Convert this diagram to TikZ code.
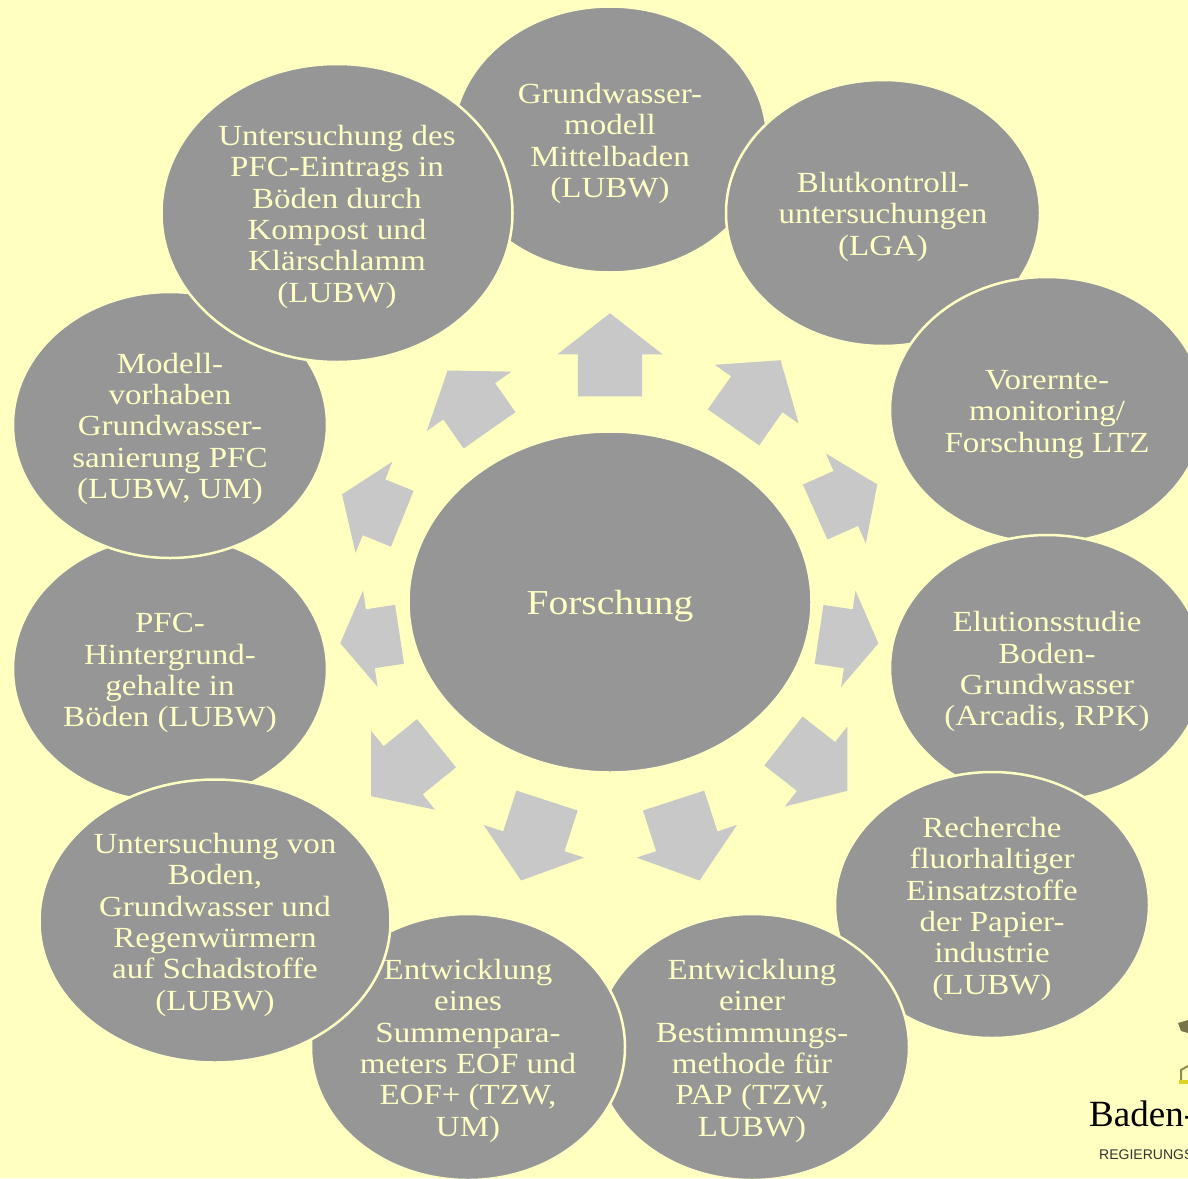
\documentclass[tikz,border=0pt]{standalone}
\usepackage{fontspec}
\setmainfont[FakeStretch=1.13]{Liberation Serif}
\newfontfamily\logofont{Liberation Serif}
\newfontfamily\subfont{Liberation Sans}
\usetikzlibrary{shapes.geometric, shapes.arrows, positioning}
\definecolor{paper}{HTML}{FFFFC0}
\definecolor{disc}{HTML}{969696}
\definecolor{pointer}{HTML}{C8C8C8}
\definecolor{lettering}{HTML}{FFFFC4}
\tikzset{
    bubble/.style={draw=lettering, line width=2.5pt, fill=disc, ellipse, inner sep=-12pt, align=center, text=lettering,
        font=\fontsize{29.2}{31.3}\selectfont, minimum width=314pt, minimum height=266pt},
    bubblewide/.style={bubble, minimum width=351pt, minimum height=#1},
    pointerarrow/.style={single arrow, fill=pointer, inner sep=0pt, anchor=tip}
}
\newcommand{\lift}{\rule{0pt}{28pt}}
\begin{document}
\begin{tikzpicture}[x=1pt, y=-1pt]
\useasboundingbox (0,0) rectangle (1188,1178);
\clip (0,0) rectangle (1188,1178);
\fill[paper] (0,0) rectangle (1188,1178);
\node[bubble] (Grundwasser) at (610,139.5) {\lift Grundwasser-\\modell\\Mittelbaden\\(LUBW)};
\node[bubble] (Blut) at (883,213) {\lift Blutkontroll-\\untersuchungen\\(LGA)};
\node[bubble] (Vorernte) at (1047,410) {\lift Vorernte-\\monitoring/\\Forschung LTZ};
\node[bubble] (Elution) at (1047,668) {\lift Elutionsstudie\\Boden-\\Grundwasser\\(Arcadis, RPK)};
\node[bubble] (Recherche) at (992,905) {\lift Recherche\\fluorhaltiger\\Einsatzstoffe\\der Papier-\\industrie\\(LUBW)};
\node[bubble] (Einer) at (752,1047) {\lift Entwicklung\\einer\\Bestimmungs-\\methode f\"ur\\PAP (TZW,\\LUBW)};
\node[bubble] (Eines) at (468,1047) {\lift Entwicklung\\eines\\Summenpara-\\meters EOF und\\EOF+ (TZW,\\UM)};
\node[bubble] (Hintergrund) at (170,669) {\lift PFC-\\Hintergrund-\\gehalte in\\B\"oden (LUBW)};
\node[bubblewide=283pt] (Regenwurm) at (215,921) {\lift Untersuchung von\\Boden,\\Grundwasser und\\Regenw\"urmern\\auf Schadstoffe\\(LUBW)};
\node[bubble] (Sanierung) at (170,425) {\lift Modell-\\vorhaben\\Grundwasser-\\sanierung PFC\\(LUBW, UM)};
\node[bubblewide=298pt] (Eintrag) at (337,213) {\lift Untersuchung des\\PFC-Eintrags in\\B\"oden durch\\Kompost und\\Kl\"arschlamm\\(LUBW)};
\node[bubble, minimum width=403pt, minimum height=341pt, font=\fontsize{35}{38}\selectfont] (Forschung) at (610,602) {\rule{0pt}{33pt}Forschung};
% arrows: tip, angle, length, width, tip angle
\foreach \x/\y/\a/\l/\w/\t [count=\i] in {610/313/90/83/105/104, 780.7/360/55/82/102/102, 877.5/484.3/24/68/98/110, 878.6/643.3/-8.5/60/97/116,
    847.5/791/-38/81/101/104, 699.6/880.7/-72/84/105/104, 521/880.7/-108/84/105/104, 371/796.3/-141/84/101/102,
    340/643.3/-171.4/60/97/116, 341.8/494.3/158/65/98/110, 447.5/370.3/125/73/103/108}
{
    \node[pointerarrow, inner ysep=0.305*\w pt, single arrow head extend=0.195*\w pt, minimum height=\l pt, minimum width=\w pt, single arrow tip angle=\t, rotate=\a] (A\i) at (\x,\y) {};
}
% logo, cut off by the page edge
\fill[black!60!yellow] (1178,1023) -- (1188,1020) -- (1188,1033) -- (1181,1031) -- cycle;
\draw[black!50!yellow, line width=2pt] (1181,1082) -- (1181,1070) -- (1188,1066);
\fill[yellow!85!black] (1179,1080) rectangle (1188,1084);
\node[anchor=base west, inner sep=0pt, font=\logofont\fontsize{37}{37}\selectfont] (Land) at (1089,1126) {Baden-};
\node[anchor=base west, inner sep=0pt, font=\subfont\fontsize{14}{14}\selectfont, text=black!80] (Praesidium) at (1099,1159) {REGIERUNGS};
\end{tikzpicture}
\end{document}
